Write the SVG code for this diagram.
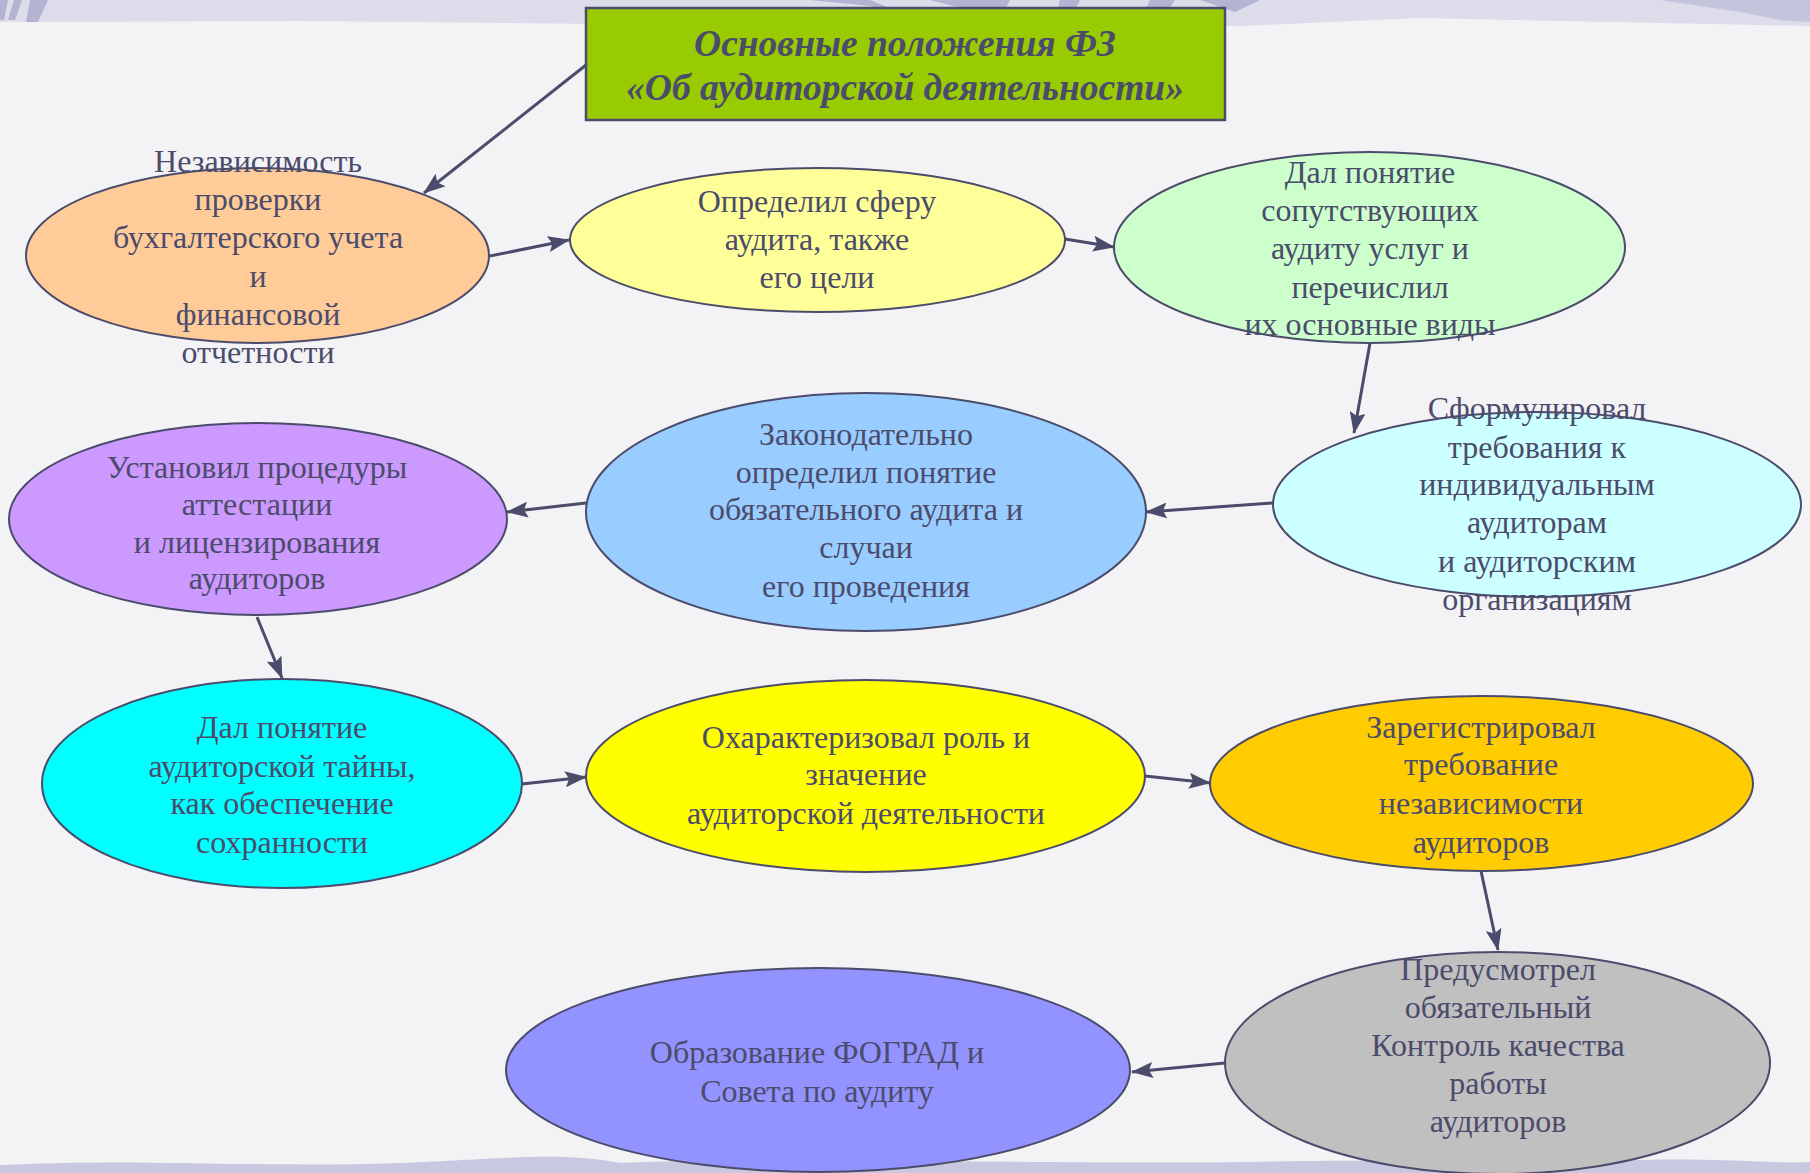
<svg xmlns="http://www.w3.org/2000/svg" width="1810" height="1173" viewBox="0 0 1810 1173">
<defs>
<style>
.bg{fill:#F3F3F5}
.node ellipse{stroke:#4B4B6B;stroke-width:2}
.node text{font-family:"Liberation Serif","Times New Roman",serif;font-size:32px;fill:#4B4B6B;text-anchor:middle}
.title text{font-family:"Liberation Serif","Times New Roman",serif;font-size:37.5px;font-weight:bold;font-style:italic;fill:#4B4B6B;text-anchor:middle}
.conn line{stroke:#4B4B6B;stroke-width:3;marker-end:url(#arr)}
</style>
<marker id="arr" markerUnits="userSpaceOnUse" markerWidth="22" markerHeight="16" viewBox="0 0 22 16" refX="21" refY="8" orient="auto">
<path d="M0,0 L22,8 L0,16 L4,8 z" fill="#4B4B6B"/>
</marker>
</defs>
<rect class="bg" x="0" y="0" width="1810" height="1173"/>
<g id="decor">
<path d="M0,0 H1810 V26 L1760,25 L1420,18 L1240,26 L900,22 L600,24 L300,21 L0,22 Z" fill="#DCDCEA"/>
<path d="M0,0 H8 L4,20 H0 Z M14,0 H22 L15,20 H8 Z M30,0 H48 L38,22 H26 Z" fill="#B4B4D2"/>
<path d="M810,0 H870 L905,14 L870,6 Z M930,0 H1010 L1000,18 Z M1060,0 H1080 L1070,20 H1055 Z M1150,0 H1175 L1160,22 H1140 Z M1200,0 H1260 L1235,12 Z" fill="#B4B4D2"/>
<path d="M1660,0 H1810 V22 L1780,20 L1740,12 Z" fill="#C4C4DC"/>
<path d="M0,1173 V1165 C150,1158 250,1168 400,1163 C520,1158 560,1152 620,1163 C700,1160 780,1158 900,1162 C1000,1160 1100,1164 1250,1162 C1400,1158 1500,1165 1640,1160 C1720,1158 1780,1164 1810,1162 V1173 Z" fill="#C8C8E0"/>
</g>
<g id="connectors" class="conn">
<line x1="586" y1="65" x2="424" y2="193"/>
<line x1="490" y1="256" x2="569" y2="240"/>
<line x1="1065" y1="239" x2="1114" y2="247"/>
<line x1="1370" y1="343" x2="1354" y2="433"/>
<line x1="1273" y1="503" x2="1146" y2="512"/>
<line x1="586" y1="503" x2="507" y2="512"/>
<line x1="257" y1="617" x2="282" y2="678"/>
<line x1="522" y1="784" x2="586" y2="777"/>
<line x1="1145" y1="776" x2="1210" y2="783"/>
<line x1="1481" y1="871" x2="1498" y2="950"/>
<line x1="1225" y1="1063" x2="1132" y2="1072"/>
</g>
<g id="title" class="title">
<rect x="586" y="8" width="639" height="112" fill="#99CC00" stroke="#4B4B6B" stroke-width="2.5"/>
<text x="905" y="56">Основные положения ФЗ</text>
<text x="905" y="100">«Об аудиторской деятельности»</text>
</g>
<g id="n1" class="node">
<ellipse cx="257.5" cy="255.5" rx="231.5" ry="87.5" fill="#FFCC99"/>
<text x="258" y="172">Независимость</text>
<text x="258" y="210">проверки</text>
<text x="258" y="248">бухгалтерского учета</text>
<text x="258" y="287">и</text>
<text x="258" y="325">финансовой</text>
<text x="258" y="363">отчетности</text>
</g>
<g id="n2" class="node">
<ellipse cx="817.5" cy="240" rx="247.5" ry="72" fill="#FFFF99"/>
<text x="817" y="212">Определил сферу</text>
<text x="817" y="250">аудита, также</text>
<text x="817" y="288">его цели</text>
</g>
<g id="n3" class="node">
<ellipse cx="1369.5" cy="247.5" rx="255.5" ry="95.5" fill="#CCFFCC"/>
<text x="1370" y="183">Дал понятие</text>
<text x="1370" y="221">сопутствующих</text>
<text x="1370" y="259">аудиту услуг и</text>
<text x="1370" y="298">перечислил</text>
<text x="1370" y="335">их основные виды</text>
</g>
<g id="n4" class="node">
<ellipse cx="1537" cy="504.5" rx="264" ry="92.5" fill="#CCFFFF"/>
<text x="1537" y="419">Сформулировал</text>
<text x="1537" y="458">требования к</text>
<text x="1537" y="495">индивидуальным</text>
<text x="1537" y="533">аудиторам</text>
<text x="1537" y="572">и аудиторским</text>
<text x="1537" y="610">организациям</text>
</g>
<g id="n5" class="node">
<ellipse cx="866" cy="512" rx="280" ry="119" fill="#99CCFF"/>
<text x="866" y="445">Законодательно</text>
<text x="866" y="483">определил понятие</text>
<text x="866" y="520">обязательного аудита и</text>
<text x="866" y="558">случаи</text>
<text x="866" y="597">его проведения</text>
</g>
<g id="n6" class="node">
<ellipse cx="258" cy="519" rx="249" ry="96" fill="#CC99FF"/>
<text x="257" y="478">Установил процедуры</text>
<text x="257" y="515">аттестации</text>
<text x="257" y="553">и лицензирования</text>
<text x="257" y="589">аудиторов</text>
</g>
<g id="n7" class="node">
<ellipse cx="282" cy="783.5" rx="240" ry="104.5" fill="#00FFFF"/>
<text x="282" y="738">Дал понятие</text>
<text x="282" y="777">аудиторской тайны,</text>
<text x="282" y="814">как обеспечение</text>
<text x="282" y="853">сохранности</text>
</g>
<g id="n8" class="node">
<ellipse cx="865.5" cy="776" rx="279.5" ry="96" fill="#FFFF00"/>
<text x="866" y="748">Охарактеризовал роль и</text>
<text x="866" y="785">значение</text>
<text x="866" y="824">аудиторской деятельности</text>
</g>
<g id="n9" class="node">
<ellipse cx="1481.5" cy="783.5" rx="271.5" ry="87.5" fill="#FFCC00"/>
<text x="1481" y="738">Зарегистрировал</text>
<text x="1481" y="775">требование</text>
<text x="1481" y="814">независимости</text>
<text x="1481" y="853">аудиторов</text>
</g>
<g id="n10" class="node">
<ellipse cx="1497.5" cy="1063" rx="272.5" ry="111" fill="#C0C0C0"/>
<text x="1498" y="980">Предусмотрел</text>
<text x="1498" y="1018">обязательный</text>
<text x="1498" y="1056">Контроль качества</text>
<text x="1498" y="1094">работы</text>
<text x="1498" y="1132">аудиторов</text>
</g>
<g id="n11" class="node">
<ellipse cx="818" cy="1070" rx="312" ry="102" fill="#9393FF"/>
<text x="817" y="1063">Образование ФОГРАД и</text>
<text x="817" y="1102">Совета по аудиту</text>
</g>
</svg>
